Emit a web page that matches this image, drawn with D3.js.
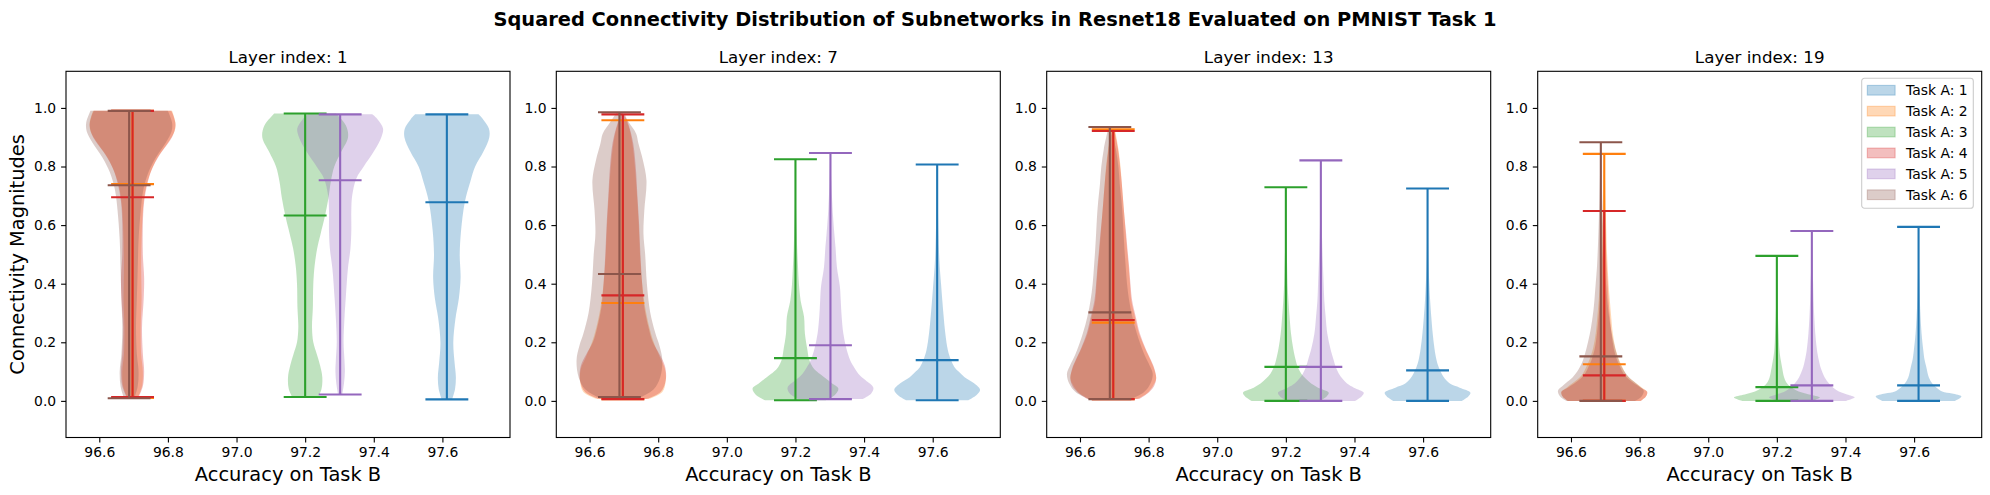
<!DOCTYPE html>
<html>
<head>
<meta charset="utf-8">
<script src="https://cdn.jsdelivr.net/npm/d3@7"></script>
<style>
	html, body { margin: 0; padding: 0; background: #fff; }
	svg { display: block; font-family: "DejaVu Sans", sans-serif; }
</style>
</head>
<body>
<svg id="chart" width="1990" height="495"></svg>
<script>
var chartTitle = 'Squared Connectivity Distribution of Subnetworks in Resnet18 Evaluated on PMNIST Task 1';
var layerIndex = [1, 7, 13, 19];
var taskLabels = ['Task A: 1', 'Task A: 2', 'Task A: 3', 'Task A: 4', 'Task A: 5', 'Task A: 6'];
var taskColors = ['#1f77b4', '#ff7f0e', '#2ca02c', '#d62728', '#9467bd', '#8c564b'];

// accuracy on task B for each task A (x position of the violin)
var accuracyB = [97.613, 96.697, 97.2, 96.697, 97.302, 96.687];

var xTicks = [96.6, 96.8, 97.0, 97.2, 97.4, 97.6];
var yTicks = [0.0, 0.2, 0.4, 0.6, 0.8, 1.0];

// one row per layer, one column per task
var minByLayer = [
	[0.005, 0.010, 0.013, 0.013, 0.022, 0.009],
	[0.002, 0.006, 0.002, 0.006, 0.006, 0.013],
	[0.000, 0.006, 0.000, 0.006, 0.000, 0.006],
	[0.000, 0.000, 0.000, 0.000, 0.000, 0.000]
];
var meanByLayer = [
	[0.678, 0.740, 0.633, 0.695, 0.753, 0.736],
	[0.139, 0.334, 0.146, 0.360, 0.190, 0.433],
	[0.104, 0.267, 0.116, 0.276, 0.116, 0.302],
	[0.053, 0.125, 0.047, 0.087, 0.053, 0.152]
];
var maxByLayer = [
	[0.978, 0.990, 0.981, 0.990, 0.978, 0.990],
	[0.807, 0.958, 0.825, 0.978, 0.846, 0.985],
	[0.725, 0.927, 0.729, 0.921, 0.821, 0.935],
	[0.594, 0.843, 0.495, 0.648, 0.580, 0.883]
];

// density outlines: [magnitude, width relative to the widest point]
var shapeL1 = [
	[[0.005,0.12],[0.04,0.19],[0.08,0.21],[0.13,0.18],[0.2,0.15],[0.28,0.2],[0.35,0.28],[0.42,0.32],[0.5,0.3],[0.58,0.33],[0.68,0.42],[0.75,0.55],[0.8,0.66],[0.85,0.85],[0.9,0.99],[0.93,0.98],[0.96,0.85],[0.978,0.74]],
	[[0.01,0.12],[0.05,0.22],[0.1,0.24],[0.16,0.2],[0.25,0.19],[0.35,0.21],[0.45,0.2],[0.55,0.21],[0.65,0.24],[0.72,0.3],[0.78,0.42],[0.83,0.58],[0.88,0.82],[0.92,0.98],[0.95,1.0],[0.99,0.92]],
	[[0.013,0.3],[0.04,0.38],[0.08,0.4],[0.12,0.35],[0.16,0.27],[0.2,0.19],[0.25,0.16],[0.32,0.18],[0.4,0.19],[0.46,0.22],[0.52,0.28],[0.57,0.36],[0.63,0.46],[0.69,0.54],[0.75,0.6],[0.8,0.68],[0.85,0.84],[0.9,1.0],[0.94,0.95],[0.981,0.72]],
	[[0.013,0.14],[0.05,0.24],[0.1,0.27],[0.16,0.24],[0.25,0.22],[0.35,0.26],[0.42,0.27],[0.5,0.24],[0.6,0.24],[0.68,0.27],[0.75,0.36],[0.8,0.48],[0.85,0.68],[0.9,0.92],[0.94,1.0],[0.97,0.96],[0.99,0.9]],
	[[0.022,0.05],[0.06,0.09],[0.1,0.11],[0.14,0.1],[0.2,0.08],[0.28,0.1],[0.35,0.13],[0.45,0.18],[0.52,0.24],[0.58,0.26],[0.65,0.26],[0.7,0.28],[0.76,0.38],[0.8,0.55],[0.85,0.78],[0.9,0.96],[0.93,1.0],[0.96,0.88],[0.978,0.75]],
	[[0.009,0.12],[0.05,0.2],[0.1,0.22],[0.16,0.18],[0.25,0.16],[0.35,0.18],[0.45,0.2],[0.55,0.22],[0.65,0.27],[0.72,0.33],[0.78,0.45],[0.83,0.62],[0.88,0.85],[0.92,0.99],[0.95,1.0],[0.99,0.9]]
];
var shapeL7 = [
	[[0.002,0.72],[0.02,0.92],[0.038,1.0],[0.06,0.86],[0.081,0.64],[0.1,0.5],[0.116,0.4],[0.14,0.32],[0.173,0.25],[0.23,0.19],[0.29,0.15],[0.343,0.12],[0.4,0.09],[0.457,0.06],[0.52,0.04],[0.571,0.03],[0.65,0.018],[0.72,0.01],[0.807,0.004]],
	[[0.006,0.6],[0.03,0.92],[0.07,1.0],[0.11,0.98],[0.15,0.86],[0.2,0.72],[0.25,0.62],[0.32,0.52],[0.4,0.45],[0.5,0.4],[0.6,0.37],[0.7,0.33],[0.8,0.28],[0.88,0.22],[0.93,0.15],[0.958,0.08]],
	[[0.002,0.7],[0.02,0.92],[0.042,1.0],[0.06,0.85],[0.081,0.67],[0.1,0.5],[0.116,0.4],[0.14,0.32],[0.173,0.28],[0.23,0.22],[0.287,0.2],[0.343,0.12],[0.4,0.08],[0.457,0.06],[0.52,0.04],[0.571,0.03],[0.65,0.015],[0.74,0.008],[0.825,0.003]],
	[[0.006,0.55],[0.03,0.88],[0.07,1.0],[0.12,0.98],[0.16,0.85],[0.2,0.7],[0.25,0.6],[0.32,0.5],[0.4,0.45],[0.5,0.41],[0.6,0.38],[0.7,0.34],[0.8,0.3],[0.88,0.24],[0.94,0.14],[0.978,0.05]],
	[[0.006,0.75],[0.025,0.95],[0.045,1.0],[0.07,0.82],[0.093,0.65],[0.115,0.55],[0.139,0.46],[0.18,0.37],[0.23,0.3],[0.29,0.26],[0.343,0.24],[0.39,0.22],[0.457,0.15],[0.52,0.12],[0.571,0.09],[0.63,0.06],[0.684,0.04],[0.75,0.02],[0.846,0.006]],
	[[0.013,0.5],[0.04,0.8],[0.08,0.95],[0.139,1.0],[0.19,0.93],[0.23,0.84],[0.3,0.72],[0.4,0.64],[0.5,0.6],[0.571,0.56],[0.65,0.58],[0.753,0.63],[0.82,0.55],[0.88,0.44],[0.912,0.39],[0.95,0.22],[0.985,0.06]]
];
var shapeL13 = [
	[[0.0,0.8],[0.015,0.95],[0.028,1.0],[0.045,0.75],[0.059,0.52],[0.076,0.4],[0.093,0.33],[0.115,0.26],[0.139,0.21],[0.18,0.16],[0.23,0.12],[0.29,0.085],[0.343,0.06],[0.4,0.04],[0.457,0.025],[0.52,0.015],[0.6,0.008],[0.725,0.003]],
	[[0.006,0.55],[0.025,0.78],[0.05,0.92],[0.076,1.0],[0.11,0.95],[0.139,0.87],[0.18,0.74],[0.23,0.6],[0.29,0.5],[0.343,0.42],[0.4,0.39],[0.457,0.36],[0.52,0.32],[0.571,0.29],[0.63,0.26],[0.684,0.23],[0.74,0.2],[0.798,0.17],[0.86,0.12],[0.927,0.04]],
	[[0.0,0.8],[0.015,0.95],[0.028,1.0],[0.045,0.75],[0.059,0.59],[0.076,0.46],[0.093,0.36],[0.115,0.28],[0.139,0.23],[0.18,0.17],[0.23,0.12],[0.29,0.085],[0.343,0.06],[0.4,0.04],[0.457,0.03],[0.52,0.018],[0.6,0.01],[0.729,0.003]],
	[[0.006,0.6],[0.025,0.8],[0.05,0.95],[0.076,1.0],[0.11,0.96],[0.139,0.88],[0.18,0.75],[0.23,0.62],[0.29,0.52],[0.343,0.44],[0.4,0.4],[0.457,0.37],[0.52,0.33],[0.571,0.3],[0.63,0.26],[0.684,0.23],[0.74,0.2],[0.798,0.16],[0.86,0.11],[0.921,0.03]],
	[[0.0,0.8],[0.015,0.95],[0.028,1.0],[0.045,0.77],[0.059,0.61],[0.076,0.5],[0.093,0.42],[0.115,0.35],[0.139,0.3],[0.18,0.22],[0.23,0.15],[0.29,0.11],[0.343,0.08],[0.4,0.065],[0.457,0.05],[0.52,0.035],[0.6,0.02],[0.7,0.01],[0.821,0.003]],
	[[0.006,0.5],[0.03,0.8],[0.06,0.95],[0.093,1.0],[0.12,0.93],[0.16,0.8],[0.23,0.63],[0.29,0.52],[0.343,0.45],[0.4,0.4],[0.457,0.37],[0.52,0.34],[0.571,0.32],[0.627,0.3],[0.684,0.27],[0.74,0.23],[0.798,0.2],[0.86,0.14],[0.935,0.03]]
];
var shapeL19 = [
	[[0.0,0.85],[0.015,1.0],[0.025,0.78],[0.032,0.55],[0.045,0.42],[0.059,0.32],[0.08,0.24],[0.116,0.18],[0.14,0.14],[0.173,0.11],[0.23,0.07],[0.29,0.045],[0.343,0.03],[0.4,0.02],[0.457,0.01],[0.52,0.006],[0.594,0.003]],
	[[0.0,0.85],[0.015,0.97],[0.031,1.0],[0.045,0.88],[0.059,0.75],[0.076,0.6],[0.093,0.5],[0.116,0.42],[0.139,0.35],[0.18,0.26],[0.23,0.2],[0.29,0.16],[0.343,0.13],[0.4,0.1],[0.457,0.08],[0.52,0.06],[0.571,0.05],[0.65,0.035],[0.75,0.02],[0.843,0.005]],
	[[0.0,0.8],[0.012,1.0],[0.022,0.75],[0.032,0.51],[0.045,0.35],[0.059,0.24],[0.08,0.17],[0.116,0.12],[0.14,0.09],[0.173,0.06],[0.23,0.04],[0.29,0.025],[0.343,0.015],[0.4,0.01],[0.495,0.003]],
	[[0.0,0.85],[0.015,0.97],[0.031,1.0],[0.045,0.85],[0.059,0.7],[0.076,0.55],[0.093,0.45],[0.116,0.37],[0.139,0.3],[0.18,0.22],[0.23,0.17],[0.29,0.13],[0.343,0.1],[0.4,0.08],[0.457,0.06],[0.52,0.04],[0.58,0.025],[0.648,0.01]],
	[[0.0,0.8],[0.012,1.0],[0.022,0.82],[0.032,0.63],[0.045,0.5],[0.059,0.4],[0.08,0.3],[0.116,0.2],[0.14,0.16],[0.173,0.12],[0.23,0.08],[0.29,0.055],[0.343,0.04],[0.4,0.03],[0.457,0.015],[0.58,0.004]],
	[[0.0,0.8],[0.015,0.95],[0.035,1.0],[0.05,0.9],[0.065,0.78],[0.08,0.66],[0.1,0.55],[0.13,0.44],[0.16,0.37],[0.2,0.3],[0.25,0.23],[0.3,0.18],[0.343,0.15],[0.4,0.12],[0.457,0.09],[0.52,0.07],[0.6,0.05],[0.7,0.03],[0.8,0.015],[0.883,0.004]]
];
var shapes = [shapeL1, shapeL7, shapeL13, shapeL19];

/**
 * Layout, in pixels (matplotlib 100 dpi: 10pt ticks, 12pt titles, 14pt labels)
 */
var panelLeft = [66, 556.3, 1046.7, 1537.7];
var panelWidth = 444;
var panelTop = 71.3;
var panelBottom = 437.5;
var violinWidth = 0.25;
var tickFont = 13.9;

var svg = d3.select('#chart');

var x = d3.scaleLinear().domain([96.503, 97.797]).range([0, panelWidth]);
var y = d3.scaleLinear().domain([-0.125, 1.125]).range([panelBottom, panelTop]);

// half width in px of the widest part of a violin
var halfPx = x(x.domain()[0] + violinWidth / 2) - x(x.domain()[0]);
var capPx = x(x.domain()[0] + violinWidth / 4) - x(x.domain()[0]);

svg.append('text')
	.attr('x', 995).attr('y', 26)
	.attr('text-anchor', 'middle')
	.style('font-size', '19.4px').style('font-weight', 'bold')
	.text(chartTitle);

layerIndex.forEach(function(layer, li) {
	var g = svg.append('g').attr('transform', 'translate(' + panelLeft[li] + ',0)');

	g.append('text')
		.attr('x', panelWidth / 2).attr('y', 63)
		.attr('text-anchor', 'middle')
		.style('font-size', '16.7px')
		.text('Layer index: ' + layer);

	// bodies first, every line on top
	var bodies = g.append('g');
	var lines = g.append('g');

	taskLabels.forEach(function(label, ti) {
		var cx = x(accuracyB[ti]);
		var area = d3.area()
			.curve(d3.curveCatmullRom.alpha(0.5))
			.y(function(d) { return y(d[0]); })
			.x0(function(d) { return cx - d[1] * halfPx; })
			.x1(function(d) { return cx + d[1] * halfPx; });

		bodies.append('path')
			.attr('d', area(shapes[li][ti]))
			.attr('fill', taskColors[ti])
			.attr('fill-opacity', 0.3);

		var lo = minByLayer[li][ti], hi = maxByLayer[li][ti], mid = meanByLayer[li][ti];
		var lg = lines.append('g')
			.attr('stroke', taskColors[ti])
			.attr('stroke-width', 2.1);

		lg.append('line')
			.attr('x1', cx).attr('x2', cx)
			.attr('y1', y(lo)).attr('y2', y(hi));

		lg.selectAll('line.cap')
			.data([lo, mid, hi])
			.enter().append('line')
			.attr('class', 'cap')
			.attr('x1', cx - capPx).attr('x2', cx + capPx)
			.attr('y1', function(d) { return y(d); })
			.attr('y2', function(d) { return y(d); });
	});

	// axes
	var xAxis = d3.axisBottom(x).tickValues(xTicks).tickFormat(d3.format('.1f'))
		.tickSizeOuter(0).tickSize(4.9).tickPadding(4.9);
	var yAxis = d3.axisLeft(y).tickValues(yTicks).tickFormat(d3.format('.1f'))
		.tickSizeOuter(0).tickSize(4.9).tickPadding(4.9);

	var gx = g.append('g').attr('transform', 'translate(0,' + panelBottom + ')').call(xAxis);
	var gy = g.append('g').call(yAxis);

	[gx, gy].forEach(function(a) {
		a.select('.domain').remove();
		a.selectAll('line').attr('stroke', '#000').attr('stroke-width', 1.1);
		a.selectAll('text')
			.attr('fill', '#000')
			.style('font-size', tickFont + 'px')
			.style('font-family', '"DejaVu Sans", sans-serif');
	});

	g.append('rect')
		.attr('x', 0).attr('y', panelTop)
		.attr('width', panelWidth).attr('height', panelBottom - panelTop)
		.attr('fill', 'none').attr('stroke', '#000').attr('stroke-width', 1.1);

	g.append('text')
		.attr('x', panelWidth / 2).attr('y', 480.5)
		.attr('text-anchor', 'middle')
		.style('font-size', '19.4px')
		.text('Accuracy on Task B');

	if (li === 0) {
		g.append('text')
			.attr('transform', 'translate(' + (24 - panelLeft[0]) + ',' + ((panelTop + panelBottom) / 2) + ') rotate(-90)')
			.attr('text-anchor', 'middle')
			.style('font-size', '19.4px')
			.text('Connectivity Magnitudes');
	}

	if (li === layerIndex.length - 1) {
		var leg = g.append('g').attr('transform', 'translate(' + (panelWidth - 8.4 - 111.6) + ',' + (panelTop + 7) + ')');
		leg.append('rect')
			.attr('width', 111.6).attr('height', 130)
			.attr('rx', 2.8).attr('ry', 2.8)
			.attr('fill', '#fff').attr('fill-opacity', 0.8)
			.attr('stroke', '#cccccc').attr('stroke-width', 1.1);

		var rows = leg.selectAll('g.row')
			.data(taskLabels)
			.enter().append('g')
			.attr('class', 'row')
			.attr('transform', function(d, i) { return 'translate(0,' + (12 + i * 20.9) + ')'; });

		rows.append('rect')
			.attr('x', 5.6).attr('y', -4.9)
			.attr('width', 27.8).attr('height', 9.7)
			.attr('fill', function(d, i) { return taskColors[i]; })
			.attr('fill-opacity', 0.3)
			.attr('stroke', function(d, i) { return taskColors[i]; })
			.attr('stroke-opacity', 0.3)
			.attr('stroke-width', 1.1);

		rows.append('text')
			.attr('x', 44.3).attr('y', 5)
			.style('font-size', tickFont + 'px')
			.text(function(d) { return d; });
	}
});
</script>
</body>
</html>
